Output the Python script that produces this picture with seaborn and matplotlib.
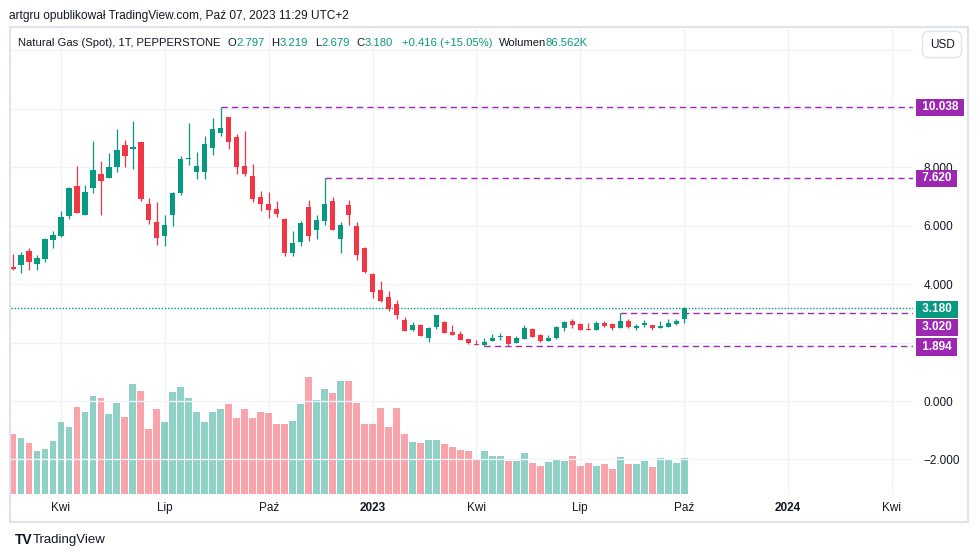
import numpy as np
import pandas as pd
import matplotlib.pyplot as plt
import matplotlib.dates as mdates
from matplotlib.patches import Rectangle
import seaborn as sns

plt.switch_backend("Agg")

sns.set_theme(style="white")
plt.rcParams["font.family"] = ["Liberation Sans", "DejaVu Sans"]

# weekly candles, Natural Gas (Spot), PEPPERSTONE
first_week = "2022-02-21"
opens = [4.58, 4.66, 5.13, 4.69, 4.86, 5.51, 5.65, 6.34, 7.35, 6.37,
         7.29, 7.76, 7.63, 8.01, 8.75, 8.63, 8.85, 6.74, 6.12, 5.65,
         6.37, 7.12, 8.29, 7.84, 7.84, 8.66, 9.16, 9.71, 9.03, 8.03,
         7.69, 6.97, 6.74, 6.56, 6.22, 5.07, 5.45, 6.63, 5.85, 6.16,
         6.84, 5.55, 6.70, 5.98, 5.23, 4.34, 3.79, 3.56, 3.32, 2.77,
         2.44, 2.60, 2.16, 2.54, 2.70, 2.36, 2.29, 2.12, 1.96, 1.92,
         2.06, 2.18, 2.22, 1.99, 2.13, 2.46, 2.26, 2.06, 2.16, 2.50,
         2.75, 2.62, 2.46, 2.44, 2.67, 2.62, 2.51, 2.74, 2.51, 2.61,
         2.60, 2.50, 2.54, 2.63, 2.797]
highs = [5.03, 5.09, 5.23, 4.99, 5.57, 5.81, 6.50, 7.32, 8.03, 7.38,
         8.89, 8.21, 8.48, 9.30, 8.92, 9.57, 8.87, 6.94, 6.80, 6.36,
         7.13, 8.38, 9.50, 8.51, 9.06, 9.68, 10.038, 9.72, 9.13, 9.23,
         8.10, 7.19, 7.15, 6.84, 6.26, 5.81, 6.15, 6.87, 6.36, 7.62,
         6.97, 6.12, 6.87, 6.12, 5.26, 4.36, 4.10, 3.76, 3.45, 2.87,
         2.70, 2.63, 2.52, 2.95, 2.74, 2.60, 2.39, 2.13, 2.09, 2.15,
         2.30, 2.32, 2.23, 2.22, 2.60, 2.50, 2.29, 2.26, 2.56, 2.74,
         2.79, 2.68, 2.67, 2.75, 2.72, 2.66, 3.02, 2.80, 2.64, 2.77,
         2.61, 2.74, 2.80, 2.80, 3.219]
lows = [4.48, 4.39, 4.49, 4.49, 4.76, 5.24, 5.62, 6.23, 6.42, 6.35,
        7.12, 6.37, 7.61, 7.84, 8.01, 7.93, 6.85, 6.06, 5.34, 5.31,
        5.99, 7.05, 8.08, 7.60, 7.60, 8.42, 9.07, 8.63, 7.77, 7.70,
        6.81, 6.51, 6.27, 6.30, 4.97, 4.97, 5.31, 5.48, 5.55, 6.03,
        5.84, 5.07, 6.03, 4.83, 4.39, 3.53, 3.39, 3.09, 2.81, 2.38,
        2.40, 2.21, 2.03, 2.47, 2.32, 2.26, 2.09, 1.96, 1.91, 1.894,
        2.05, 2.10, 1.91, 1.98, 2.12, 2.19, 2.01, 2.05, 2.13, 2.39,
        2.50, 2.43, 2.43, 2.43, 2.53, 2.44, 2.50, 2.51, 2.44, 2.54,
        2.44, 2.49, 2.53, 2.60, 2.679]
closes = [4.51, 4.99, 4.76, 4.89, 5.54, 5.68, 6.29, 7.28, 6.44, 7.15,
          7.90, 7.53, 8.00, 8.58, 8.39, 8.68, 6.92, 6.20, 5.58, 6.02,
          7.11, 8.27, 8.32, 8.03, 8.79, 9.30, 9.33, 8.87, 8.01, 7.77,
          6.92, 6.75, 6.54, 6.40, 5.07, 5.40, 6.09, 5.65, 6.19, 6.74,
          5.86, 6.02, 6.37, 5.00, 4.42, 3.74, 3.43, 3.16, 2.95, 2.40,
          2.60, 2.23, 2.50, 2.94, 2.34, 2.27, 2.10, 1.99, 1.92, 2.02,
          2.15, 2.20, 1.96, 2.15, 2.49, 2.20, 2.04, 2.15, 2.53, 2.69,
          2.61, 2.44, 2.44, 2.68, 2.56, 2.50, 2.74, 2.52, 2.57, 2.68,
          2.51, 2.56, 2.67, 2.74, 3.180]
# volume in thousands
volumes = [144, 135, 123, 103, 108, 127, 173, 161, 209, 197,
           236, 231, 192, 219, 185, 264, 248, 156, 204, 173,
           245, 257, 231, 197, 173, 197, 204, 216, 183, 204,
           183, 197, 195, 168, 168, 175, 216, 281, 226, 252,
           243, 272, 272, 219, 168, 168, 207, 161, 207, 144,
           125, 123, 130, 130, 120, 113, 106, 103, 84, 103,
           91, 91, 79, 79, 99, 75, 67, 77, 82, 79,
           91, 67, 75, 67, 72, 60, 89, 72, 72, 79,
           65, 87, 84, 75, 86.562]

# marked levels: (price, candle index where the line starts)
level_values = [10.038, 7.620, 3.020, 1.894]
level_start = [26, 39, 76, 59]
last_close = 3.180

tick_dates = ["2022-04-04", "2022-07-04", "2022-10-03", "2023-01-02", "2023-04-03",
              "2023-07-03", "2023-10-02", "2024-01-01", "2024-04-01"]
tick_labels = ["Kwi", "Lip", "Paź", "2023", "Kwi", "Lip", "Paź", "2024", "Kwi"]
price_ticks = [-2, 0, 2, 4, 6, 8, 10, 12]
price_tick_labels = ["−2.000", "0.000", "", "4.000", "6.000", "8.000", "", ""]

GREEN = "#089981"
RED = "#f23645"
PURPLE = "#9c27b0"
DARK = "#131722"
GRID = "#f0f3fa"
FRAME = "#e0e3eb"

W, H = 980, 557

df = pd.DataFrame({"open": opens, "high": highs, "low": lows,
                   "close": closes, "volume": volumes})
df["date"] = pd.date_range(first_week, periods=len(df), freq="W-MON")
df["x"] = mdates.date2num(df["date"])
df["up"] = df["close"] >= df["open"]

fig = plt.figure(figsize=(W / 100, H / 100), dpi=100)
fig.patch.set_facecolor("white")

# plot area in pixels
px_left, px_right, px_top, px_bottom = 11, 913, 29, 494
rect = [px_left / W, 1 - px_bottom / H, (px_right - px_left) / W, (px_bottom - px_top) / H]
ax_vol = fig.add_axes(rect)
ax = ax_vol.twinx()

# volume overlay
sns.barplot(data=df, x="x", y="volume", hue="up", native_scale=True,
            palette={True: GREEN, False: RED}, alpha=0.45, saturation=1,
            width=0.86, dodge=False, errorbar=None, legend=False,
            linewidth=0, ax=ax_vol)
ax_vol.set_ylim(0, 465 * 86.562 / 36)

# candles
colors = np.where(df["up"], GREEN, RED)
body = np.maximum((df["close"] - df["open"]).abs(), 0.03)
bottom = np.minimum(df["open"], df["close"])
ax.vlines(df["x"], df["low"], df["high"], colors=colors, lw=0.9, zorder=3)
ax.bar(df["x"], body, bottom=bottom, width=4.6, color=colors, linewidth=0, zorder=4)

x0 = df["x"].iloc[0]
xlim = (x0 - 1.8, x0 + 788.5)
ax_vol.set_xlim(xlim)
ax.set_ylim(-3.18, 12.72)

# grid
ax_vol.set_xticks(mdates.date2num(pd.to_datetime(tick_dates)))
ax_vol.set_xticklabels(tick_labels)
ax_vol.grid(axis="x", color=GRID, lw=1)
ax_vol.grid(axis="y", visible=False)
ax_vol.set_yticks([])
ax_vol.set_xlabel("")
ax_vol.set_ylabel("")
ax_vol.tick_params(axis="x", length=0, pad=6, labelsize=8.5, labelcolor=DARK)
for lbl in ax_vol.get_xticklabels():
    if lbl.get_text() in ("2023", "2024"):
        lbl.set_fontweight("bold")

ax.set_yticks(price_ticks)
ax.set_yticklabels(price_tick_labels)
ax.grid(axis="y", color=GRID, lw=1)
ax.tick_params(axis="y", length=0, pad=7.5, labelsize=8.5, labelcolor=DARK)
ax.set_ylabel("")

for a in (ax, ax_vol):
    for s in a.spines.values():
        s.set_visible(False)

# last close dotted line and marked levels
ax.axhline(last_close, color=GREEN, lw=1, linestyle=(0, (1, 1.3)), zorder=2)
for val, idx in zip(level_values, level_start):
    ax.hlines(val, df["x"].iloc[idx], xlim[1], color=PURPLE, lw=1,
              linestyle=(0, (4.5, 3)), zorder=2)


def price_tag(value, text, color, dy=0):
    ax.annotate(" " + text + " ", xy=(1, value), xycoords=("axes fraction", "data"),
                xytext=(4.3, dy), textcoords="offset points",
                ha="left", va="center", color="white", fontsize=8.5,
                fontweight="bold", annotation_clip=False, zorder=10,
                bbox=dict(boxstyle="square,pad=0.22", fc=color, ec="none"))


price_tag(10.038, "10.038", PURPLE)
price_tag(7.620, "7.620", PURPLE)
price_tag(last_close, "3.180", GREEN, dy=-1)
price_tag(3.020, "3.020", PURPLE, dy=-10.5)
price_tag(1.894, "1.894", PURPLE, dy=-1)

# frame
fig.add_artist(Rectangle((10 / W, 1 - 522 / H), 958 / W, 495 / H,
                         transform=fig.transFigure, fill=False,
                         ec=FRAME, lw=1.5))

# header texts
fig.text(9 / W, 1 - 15.5 / H, "artgru opublikował TradingView.com, Paź 07, 2023 11:29 UTC+2",
         fontsize=8.6, color=DARK, va="center")

renderer = fig.canvas.get_renderer()
segments = [("Natural Gas (Spot), 1T, PEPPERSTONE", DARK, 7),
            ("O", DARK, 0), ("2.797", GREEN, 7),
            ("H", DARK, 0), ("3.219", GREEN, 7),
            ("L", DARK, 0), ("2.679", GREEN, 7),
            ("C", DARK, 0), ("3.180", GREEN, 9),
            ("+0.416 (+15.05%)", GREEN, 6),
            ("Wolumen", DARK, 0), ("86.562K", GREEN, 0)]
xpos = 18
for txt, col, gap in segments:
    t = fig.text(xpos / W, 1 - 42.5 / H, txt, fontsize=8.1, color=col, va="center")
    bb = t.get_window_extent(renderer)
    xpos = bb.x1 + gap

fig.text(942 / W, 1 - 44.5 / H, "USD", fontsize=8.5, color=DARK, ha="center", va="center",
         bbox=dict(boxstyle="round,pad=0.6,rounding_size=0.5", fc="white", ec=FRAME, lw=1))

fig.text(15 / W, 1 - 540 / H, "TV", fontsize=10, color=DARK, fontweight="heavy", va="center")
fig.text(33 / W, 1 - 540 / H, "TradingView", fontsize=9.5, color=DARK, va="center")

fig.savefig("out.png", dpi=100)
plt.close(fig)
